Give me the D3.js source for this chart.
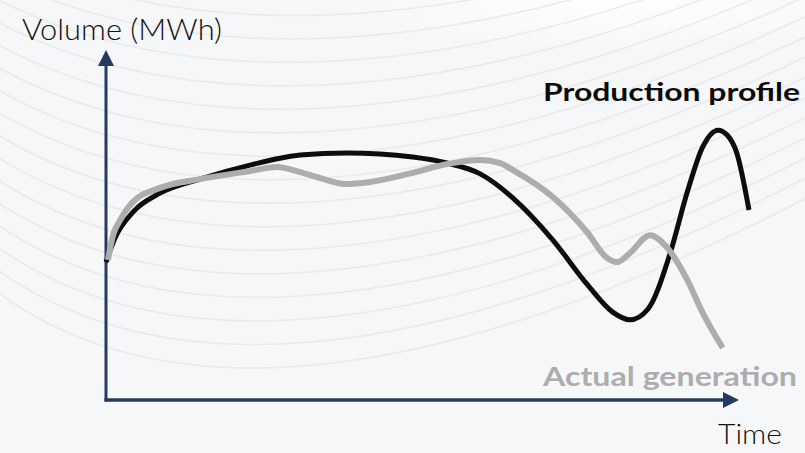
<!DOCTYPE html>
<html>
<head>
<meta charset="utf-8">
<script src="https://cdn.jsdelivr.net/npm/d3@7/dist/d3.min.js"></script>
<style>
  html, body { margin: 0; padding: 0; background: #f6f7f9; }
  svg { display: block; }
</style>
</head>
<body>
<svg id="chart" width="805" height="453"></svg>
<script>
// Time axis positions (0–100) and volume (0–100, relative MWh)
const productionTime = [0, 1.4, 4.2, 8.4, 14.6, 22.4, 30.2, 37.5, 47.7, 53.0, 58.2, 63.3, 69.5, 74.8, 78.8, 81.5, 84.3, 87.7, 90.4, 92.8, 95.2, 96.6, 98.1, 100];
const productionVolume = [39.4, 46.3, 53.7, 59.1, 63.1, 67.1, 70.0, 70.6, 69.4, 67.7, 64.6, 57.7, 45.7, 33.1, 25.1, 22.9, 26.0, 41.7, 59.4, 72.3, 77.1, 75.7, 70.6, 54.3];

const actualTime = [0.3, 1.1, 2.2, 4.2, 8.4, 14.6, 22.4, 26.6, 30.2, 33.3, 37.2, 41.1, 47.7, 53.0, 58.2, 61.3, 63.3, 69.5, 74.8, 77.9, 79.5, 81.5, 84.6, 87.2, 90.4, 92.8, 95.9];
const actualVolume = [40.0, 47.1, 51.4, 56.6, 60.6, 63.1, 65.4, 66.6, 65.1, 63.4, 61.7, 62.3, 64.9, 67.4, 68.6, 67.7, 65.7, 58.0, 48.0, 40.6, 39.4, 42.0, 47.1, 43.7, 34.3, 24.9, 14.9];

const seriesNames = ["Production profile", "Actual generation"];
const axisTitles = { y: "Volume (MWh)", x: "Time" };

const svg = d3.select("#chart");
const W = 805, H = 453;
const defs = svg.append("defs");

// soft decorative background sweeps
const bg = svg.append("g");
bg.append("rect").attr("width", W).attr("height", H).attr("fill", "#f6f7f9");
const glow = defs.append("radialGradient").attr("id", "glow")
  .attr("cx", 0.5).attr("cy", 0.5).attr("r", 0.5);
glow.append("stop").attr("offset", "0%").attr("stop-color", "#ffffff").attr("stop-opacity", 0.85);
glow.append("stop").attr("offset", "100%").attr("stop-color", "#ffffff").attr("stop-opacity", 0);
bg.append("ellipse").attr("cx", 620).attr("cy", 5).attr("rx", 300).attr("ry", 45)
  .attr("fill", "url(#glow)");

const sweeps = d3.range(16);
bg.selectAll("path.sweep").data(sweeps).join("path")
  .attr("class", "sweep")
  .attr("d", i => {
    const a = -60 + i * 22, b = 40 + i * 26, c = 60 + i * 22, d = -120 + i * 20;
    return `M-30,${a} C150,${b} 450,${c} 840,${d}`;
  })
  .attr("fill", "none")
  .attr("stroke", "#e3e4e8")
  .attr("stroke-width", 1.6)
  .attr("opacity", 0.65);

// scales
const x = d3.scaleLinear().domain([0, 100]).range([106, 749]);
const y = d3.scaleLinear().domain([0, 100]).range([400, 50]);

// axes as arrows
const axisColor = "#253a5f";
const axes = svg.append("g");
axes.append("line")
  .attr("x1", x(0)).attr("y1", y(0) + 1.5)
  .attr("x2", x(0)).attr("y2", 64)
  .attr("stroke", axisColor).attr("stroke-width", 3);
axes.append("path")
  .attr("d", `M${x(0)},50 L${x(0) - 8},66 L${x(0) + 8},66 Z`)
  .attr("fill", axisColor);
axes.append("line")
  .attr("x1", x(0) - 1.5).attr("y1", y(0))
  .attr("x2", 725).attr("y2", y(0))
  .attr("stroke", axisColor).attr("stroke-width", 3.5);
axes.append("path")
  .attr("d", `M739,${y(0)} L723,${y(0) - 8} L723,${y(0) + 8} Z`)
  .attr("fill", axisColor);

// curves
const line = d3.line()
  .x(d => x(d[0]))
  .y(d => y(d[1]))
  .curve(d3.curveMonotoneX);

const production = productionTime.map((t, i) => [t, productionVolume[i]]);
const actual = actualTime.map((t, i) => [t, actualVolume[i]]);

svg.append("path").datum(production)
  .attr("d", line)
  .attr("fill", "none")
  .attr("stroke", "#0d0d0d")
  .attr("stroke-width", 5);

svg.append("path").datum(actual)
  .attr("d", line)
  .attr("fill", "none")
  .attr("stroke", "#adadad")
  .attr("stroke-width", 6);

// text
svg.append("text")
  .attr("x", 22).attr("y", 40)
  .attr("font-family", "Lato, 'Open Sans', sans-serif")
  .attr("font-weight", 300)
  .attr("font-size", 29)
  .attr("fill", "#111")
  .attr("textLength", 200).attr("lengthAdjust", "spacingAndGlyphs")
  .text(axisTitles.y);

svg.append("text")
  .attr("x", 718).attr("y", 444)
  .attr("font-family", "Lato, 'Open Sans', sans-serif")
  .attr("font-weight", 300)
  .attr("font-size", 27)
  .attr("fill", "#111")
  .attr("textLength", 64).attr("lengthAdjust", "spacingAndGlyphs")
  .text(axisTitles.x);

svg.append("text")
  .attr("x", 543).attr("y", 101)
  .attr("font-family", "Lato, 'Open Sans', sans-serif")
  .attr("font-weight", 700)
  .attr("font-size", 25)
  .attr("fill", "#0a0a0a")
  .attr("textLength", 257).attr("lengthAdjust", "spacingAndGlyphs")
  .text(seriesNames[0]);

svg.append("text")
  .attr("x", 543).attr("y", 386)
  .attr("font-family", "Lato, 'Open Sans', sans-serif")
  .attr("font-weight", 700)
  .attr("font-size", 27)
  .attr("fill", "#adadad")
  .attr("textLength", 254).attr("lengthAdjust", "spacingAndGlyphs")
  .text(seriesNames[1]);
</script>
</body>
</html>
